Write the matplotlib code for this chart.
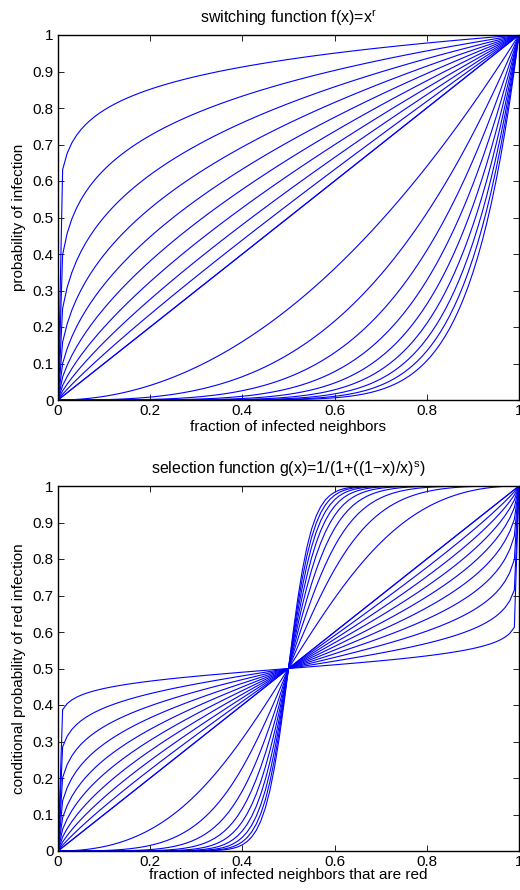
import numpy as np
import matplotlib
matplotlib.use("Agg")
import matplotlib.pyplot as plt

# exponents used for the curve families (r for switching, s for selection)
r_values = [0.1, 0.2, 0.3, 0.4, 0.5, 0.6, 0.7, 0.8, 0.9, 1.0,
            1, 2, 3, 4, 5, 6, 7, 8, 9, 10]
s_values = [0.1, 0.2, 0.3, 0.4, 0.5, 0.6, 0.7, 0.8, 0.9, 1.0,
            1, 2, 3, 4, 5, 6, 7, 8, 9, 10]
x_grid = np.linspace(0, 1, 101)

ticks = [0, 0.2, 0.4, 0.6, 0.8, 1]
yticks = [0, 0.1, 0.2, 0.3, 0.4, 0.5, 0.6, 0.7, 0.8, 0.9, 1]
tick_labels = ["0", "0.2", "0.4", "0.6", "0.8", "1"]
ytick_labels = ["0", "0.1", "0.2", "0.3", "0.4", "0.5", "0.6", "0.7", "0.8", "0.9", "1"]

plt.rcParams["font.family"] = ["Liberation Sans", "DejaVu Sans"]
plt.rcParams["font.size"] = 10
plt.rcParams["mathtext.fontset"] = "custom"
plt.rcParams["mathtext.rm"] = "Liberation Sans"
plt.rcParams["mathtext.it"] = "Liberation Sans"


def style_axes(ax):
    ax.set_xlim(0, 1)
    ax.set_ylim(0, 1)
    ax.set_xticks(ticks)
    ax.set_xticklabels(tick_labels)
    ax.set_yticks(yticks)
    ax.set_yticklabels(ytick_labels)
    ax.tick_params(direction="in", top=True, right=True, length=4, width=0.6,
                   labelsize=11, pad=3)
    for sp in ax.spines.values():
        sp.set_linewidth(1.0)


fig = plt.figure(figsize=(5.2, 8.9), dpi=100)

ax1 = fig.add_axes([58 / 520, 1 - 400 / 890, 1.0 - 58 / 520 - 0.002, 365 / 890])
for r in r_values:
    ax1.plot(x_grid, x_grid ** r, color="#0000ff", lw=0.8)
style_axes(ax1)
ax1.set_title("switching function f(x)=x$^{\\mathrm{r}}$", fontsize=11.5, pad=9)
ax1.set_xlabel("fraction of infected neighbors", fontsize=11, labelpad=1)
ax1.set_ylabel("probability of infection", fontsize=11, labelpad=5)

ax2 = fig.add_axes([58 / 520, 1 - 851 / 890, 1.0 - 58 / 520 - 0.002, 365 / 890])
with np.errstate(divide="ignore", invalid="ignore"):
    ratio = (1 - x_grid) / x_grid
    for s in s_values:
        g = 1 / (1 + ratio ** s)
        ax2.plot(x_grid, g, color="#0000ff", lw=0.8)
style_axes(ax2)
ax2.set_title("selection function g(x)=1/(1+((1\u2212x)/x)$^{\\mathrm{s}}$)", fontsize=11.5, pad=9)
ax2.set_xlabel("fraction of infected neighbors that are red", fontsize=11, labelpad=-1)
ax2.set_ylabel("conditional probability of red infection", fontsize=11, labelpad=5)

fig.savefig("out.png", dpi=100)
